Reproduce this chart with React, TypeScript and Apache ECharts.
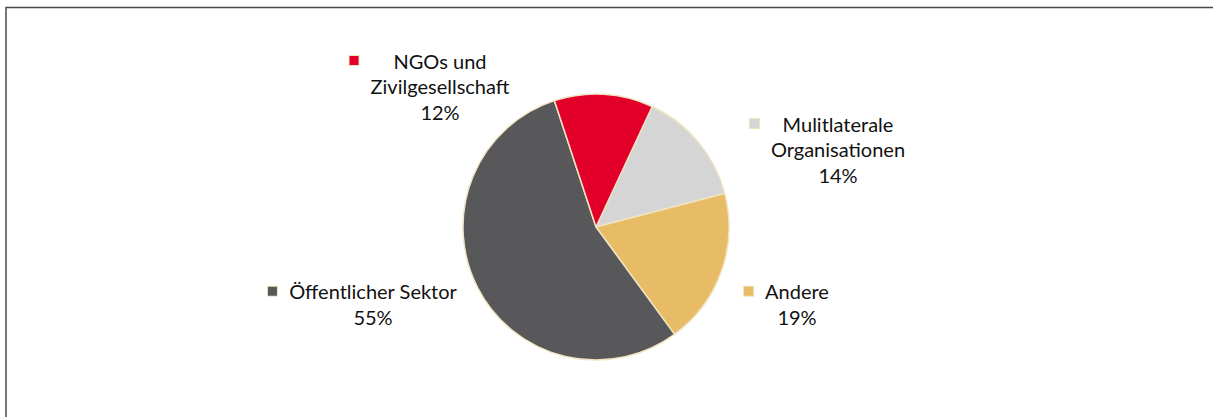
import React, { useEffect, useRef } from "react";
import * as echarts from "echarts";

const NAMES = ["Mulitlaterale\nOrganisationen", "Andere", "Öffentlicher Sektor", "NGOs und\nZivilgesellschaft"];
const VALUES = [14, 19, 55, 12];
const COLORS = ["#d5d5d5", "#e8bb66", "#58585a", "#e2002b"];

// label block centres (layout only)
const LABEL_POS = [
  [838, 149],
  [797, 304],
  [373, 304],
  [440, 86],
];

const FONT = "Lato, 'Open Sans', sans-serif";
const FS = 20;
const LH = 25.5;
const SQ = 9;
const GAP = 12;

export default function App() {
  const ref = useRef<HTMLDivElement>(null);
  useEffect(() => {
    if (!ref.current) return;
    const chart = echarts.init(ref.current, null, { renderer: "svg" });
    const rich: any = {
      t: { fontSize: FS, lineHeight: LH, color: "#111", fontFamily: FONT, align: "center" },
      g: { width: GAP, height: SQ, lineHeight: LH, align: "left" },
      lp: { width: SQ + GAP, height: SQ, lineHeight: LH, align: "left" },
      rp: { width: SQ + GAP, height: SQ, lineHeight: LH, align: "right" },
    };
    COLORS.forEach((c, i) => {
      rich["sq" + i] = {
        width: SQ,
        height: SQ,
        lineHeight: LH,
        backgroundColor: c,
        borderColor: "#efe2bf",
        borderWidth: 1,
        align: "left",
        verticalAlign: "middle",
      };
    });
    const data = NAMES.map((n, i) => ({ name: n, value: VALUES[i], itemStyle: { color: COLORS[i] } }));
    chart.setOption({
      animation: false,
      graphic: [
        {
          type: "rect",
          shape: { x: 6, y: 7.5, width: 1400, height: 600 },
          style: { fill: "none", stroke: "#4a4a4a", lineWidth: 1.5 },
          silent: true,
        },
      ],
      series: [
        {
          type: "pie",
          center: [596, 227],
          radius: 133,
          startAngle: 65,
          clockwise: true,
          data,
          itemStyle: { borderColor: "#f1e4c2", borderWidth: 1.5 },
          emphasis: { disabled: true },
          labelLine: { show: false },
          label: {
            show: true,
            position: "inside",
            lineHeight: LH,
            fontFamily: FONT,
            fontSize: FS,
            color: "#111",
            formatter: (p: any) => {
              const lines: string[] = String(p.name).split("\n");
              lines.push(Math.round(p.percent) + "%");
              return lines
                .map((l, k) =>
                  k === 0
                    ? `{sq${p.dataIndex}|}{g|}{t|${l}}{rp|}`
                    : `{lp|}{t|${l}}{rp|}`
                )
                .join("\n");
            },
            rich,
          },
          labelLayout: (params: any) => {
            const pos = LABEL_POS[params.dataIndex];
            return { x: pos[0], y: pos[1], align: "center", verticalAlign: "middle" };
          },
        },
      ],
    });
    return () => chart.dispose();
  }, []);
  return (
    <div
      ref={ref}
      style={{ position: "fixed", left: 0, top: 0, width: 1213, height: 417, background: "#fff" }}
    />
  );
}
